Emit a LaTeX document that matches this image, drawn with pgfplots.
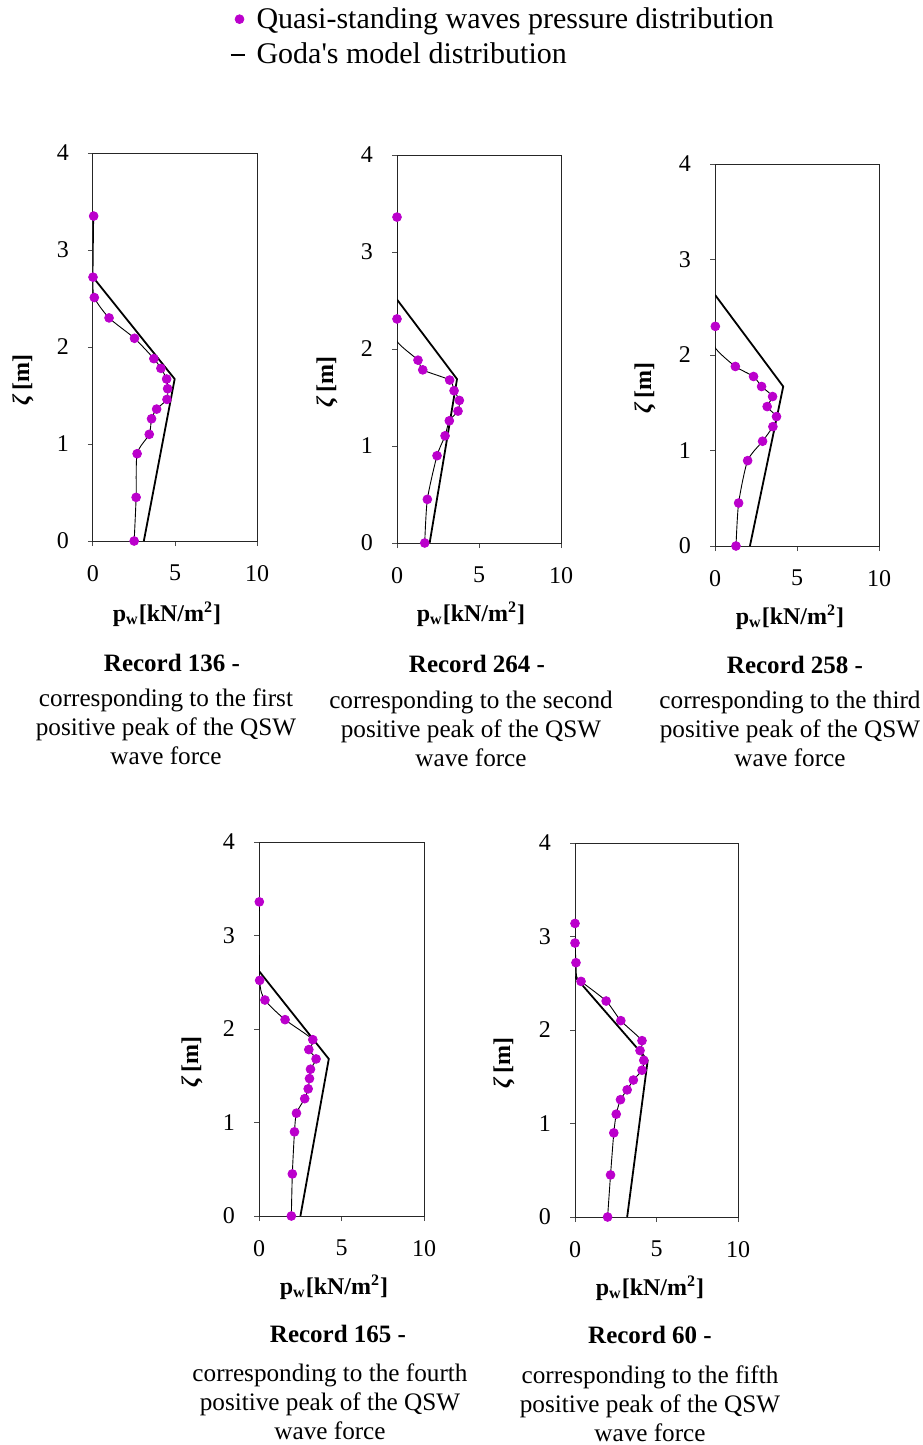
\documentclass[border=0pt]{standalone}
\usepackage{fontspec}
\setmainfont{Liberation Serif}
\usepackage{pgfplots}
\pgfplotsset{compat=1.18}

\definecolor{qsw}{RGB}{187,0,204}

\pgfplotsset{
  panel/.style={
    scale only axis,
    xmin=0, xmax=10, ymin=0, ymax=4,
    xtick={0,5,10}, ytick={0,1,2,3,4},
    tick align=outside, tick pos=left,
    major tick length=2.5pt,
    axis line style={line width=0.5pt, black!85},
    every tick/.style={black!70, line width=0.5pt},
    tick label style={font=\fontsize{12}{14}\selectfont},
    /pgf/number format/assume math mode=true,
    xticklabel style={yshift=-6pt},
    yticklabel style={xshift=-6pt},
    clip mode=individual,
  },
  qswline/.style={black, line width=0.45pt, smooth, tension=0.4, no markers, forget plot},
  qswmark/.style={only marks, mark=*, mark size=2.2pt, qsw, mark options={fill=qsw, draw=qsw}, forget plot},
  goda/.style={black, line width=0.9pt, no markers, forget plot},
}

\newcommand{\pwlabel}{\textbf{p\textsubscript{w}[kN/m\textsuperscript{2}]}}
\newcommand{\zlabel}{\textbf{\textit{ζ}\,[m]}}
\newcommand{\capfont}{\fontsize{12.6}{14.5}\selectfont}

\begin{document}
\begin{tikzpicture}
\useasboundingbox (0pt,0pt) rectangle (461pt,-722.5pt);

% ---------- Record 136 ----------
\begin{axis}[panel, at={(46.5pt,-270.5pt)}, anchor=south west, width=82pt, height=194pt,
  legend style={at={(axis description cs:0.83,1.387)}, anchor=north west, draw=none, fill=none,
    font=\fontsize{15}{17}\selectfont, row sep=2pt, inner sep=0pt},
  legend cell align=left]
\addlegendimage{legend image code/.code={\path[draw=none, fill=none] (0pt,-1pt) rectangle (11pt,1pt); \fill[qsw] (4.5pt,0pt) circle (2.2pt);}}
\addlegendimage{legend image code/.code={\path[draw=none, fill=none] (0pt,-1pt) rectangle (11pt,1pt); \draw[black, line width=1pt] (0pt,0pt) -- (7pt,0pt);}}
\addplot[goda] coordinates {(0,2.72) (4.98,1.67) (3.10,0)};
\addplot[qswline] coordinates {(0.04,3.35) (0,2.72) (0.08,2.51) (0.98,2.30) (2.53,2.09) (3.71,1.88) (4.14,1.78) (4.49,1.67) (4.55,1.57) (4.51,1.46) (3.88,1.36) (3.57,1.26) (3.43,1.10) (2.69,0.90) (2.63,0.45) (2.51,0)};
\addplot[qswmark] coordinates {(0.04,3.35) (0,2.72) (0.08,2.51) (0.98,2.30) (2.53,2.09) (3.71,1.88) (4.14,1.78) (4.49,1.67) (4.55,1.57) (4.51,1.46) (3.88,1.36) (3.57,1.26) (3.43,1.10) (2.69,0.90) (2.63,0.45) (2.51,0)};
\legend{Quasi-standing waves pressure distribution, Goda\textquotesingle s model distribution}
\end{axis}

% ---------- Record 264 ----------
\begin{axis}[panel, at={(198.5pt,-271.5pt)}, anchor=south west, width=82pt, height=194pt]
\addplot[goda] coordinates {(0,2.51) (3.66,1.69) (1.99,0)};
\addplot[qswline] coordinates {(0,3.36) (0,2.31) (0,2.08) (1.28,1.885) (1.57,1.785) (3.21,1.68) (3.48,1.57) (3.80,1.47) (3.72,1.36) (3.19,1.26) (2.93,1.105) (2.44,0.90) (1.85,0.45) (1.69,0)};
\addplot[qswmark] coordinates {(0,3.36) (0,2.31) (1.28,1.885) (1.57,1.785) (3.21,1.68) (3.48,1.57) (3.80,1.47) (3.72,1.36) (3.19,1.26) (2.93,1.105) (2.44,0.90) (1.85,0.45) (1.69,0)};
\end{axis}

% ---------- Record 258 ----------
\begin{axis}[panel, at={(357.5pt,-273pt)}, anchor=south west, width=82pt, height=191pt]
\addplot[goda] coordinates {(0,2.63) (4.16,1.67) (2.13,0)};
\addplot[qswline] coordinates {(0.02,2.30) (0,2.08) (1.24,1.88) (2.35,1.775) (2.84,1.67) (3.51,1.565) (3.18,1.46) (3.75,1.355) (3.53,1.25) (2.90,1.097) (1.99,0.894) (1.44,0.45) (1.28,0)};
\addplot[qswmark] coordinates {(0.02,2.30) (1.24,1.88) (2.35,1.775) (2.84,1.67) (3.51,1.565) (3.18,1.46) (3.75,1.355) (3.53,1.25) (2.90,1.097) (1.99,0.894) (1.44,0.45) (1.28,0)};
\end{axis}

% ---------- Record 165 ----------
\begin{axis}[panel, at={(129.5pt,-608pt)}, anchor=south west, width=82.5pt, height=187pt]
\addplot[goda] coordinates {(0,2.62) (4.23,1.68) (2.51,0)};
\addplot[qswline] coordinates {(0.02,3.36) (0.04,2.52) (0.36,2.31) (1.58,2.10) (3.26,1.886) (3.02,1.78) (3.46,1.68) (3.12,1.57) (3.06,1.47) (2.98,1.36) (2.77,1.255) (2.27,1.10) (2.15,0.90) (2.02,0.45) (1.96,0)};
\addplot[qswmark] coordinates {(0.02,3.36) (0.04,2.52) (0.36,2.31) (1.58,2.10) (3.26,1.886) (3.02,1.78) (3.46,1.68) (3.12,1.57) (3.06,1.47) (2.98,1.36) (2.77,1.255) (2.27,1.10) (2.15,0.90) (2.02,0.45) (1.96,0)};
\end{axis}

% ---------- Record 60 ----------
\begin{axis}[panel, at={(287.5pt,-608.5pt)}, anchor=south west, width=81.5pt, height=187pt]
\addplot[goda] coordinates {(0,2.57) (4.46,1.676) (3.20,0)};
\addplot[qswline] coordinates {(0,3.14) (0,2.93) (0.06,2.72) (0.10,2.57) (0.37,2.52) (1.91,2.31) (2.81,2.10) (4.11,1.886) (3.99,1.78) (4.22,1.676) (4.11,1.57) (3.58,1.465) (3.20,1.36) (2.79,1.255) (2.53,1.10) (2.38,0.90) (2.18,0.45) (2.00,0)};
\addplot[qswmark] coordinates {(0,3.14) (0,2.93) (0.06,2.72) (0.37,2.52) (1.91,2.31) (2.81,2.10) (4.11,1.886) (3.99,1.78) (4.22,1.676) (4.11,1.57) (3.58,1.465) (3.20,1.36) (2.79,1.255) (2.53,1.10) (2.38,0.90) (2.18,0.45) (2.00,0)};
\end{axis}

% ---------- axis titles and captions ----------
\tikzset{ztitle/.style={rotate=90, font=\fontsize{12}{13}\selectfont},
         ptitle/.style={font=\fontsize{12}{13}\selectfont},
         rtitle/.style={font=\fontsize{12.5}{13}\selectfont\bfseries},
         desc/.style={font=\capfont, align=center}}

\node[ztitle] at (11.5pt,-190pt) {\zlabel};
\node[ptitle] at (83.5pt,-307pt) {\pwlabel};
\node[rtitle] at (86pt,-331.5pt) {Record 136 -};
\node[desc] at (83pt,-363.5pt) {corresponding to the first\\positive peak of the QSW\\wave force};

\node[ztitle] at (163.5pt,-191pt) {\zlabel};
\node[ptitle] at (235.5pt,-307pt) {\pwlabel};
\node[rtitle] at (238.5pt,-332pt) {Record 264 -};
\node[desc] at (235.5pt,-364.5pt) {corresponding to the second\\positive peak of the QSW\\wave force};

\node[ztitle] at (322.5pt,-194pt) {\zlabel};
\node[ptitle] at (395pt,-308.5pt) {\pwlabel};
\node[rtitle] at (397.5pt,-332.5pt) {Record 258 -};
\node[desc] at (395pt,-364.5pt) {corresponding to the third\\positive peak of the QSW\\wave force};

\node[ztitle] at (96pt,-531pt) {\zlabel};
\node[ptitle] at (167pt,-643.5pt) {\pwlabel};
\node[rtitle] at (169pt,-667pt) {Record 165 -};
\node[desc] at (165pt,-701pt) {corresponding to the fourth\\positive peak of the QSW\\wave force};

\node[ztitle] at (252pt,-531.5pt) {\zlabel};
\node[ptitle] at (325pt,-644pt) {\pwlabel};
\node[rtitle] at (325pt,-667.5pt) {Record 60 -};
\node[desc] at (325pt,-702pt) {corresponding to the fifth\\positive peak of the QSW\\wave force};
\end{tikzpicture}
\end{document}
